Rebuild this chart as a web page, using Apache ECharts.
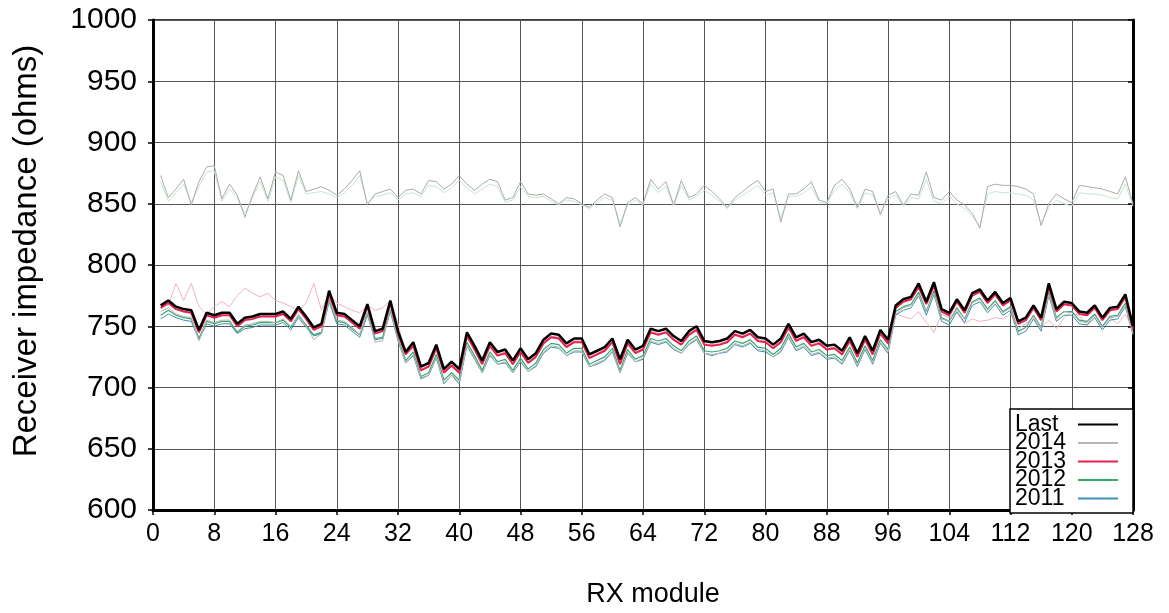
<!DOCTYPE html>
<html><head><meta charset="utf-8">
<script src="https://cdn.jsdelivr.net/npm/echarts@6/dist/echarts.min.js"></script>
<style>html,body{margin:0;padding:0;background:#fff}#c{width:1169px;height:613px}</style>
</head><body><div id="c"></div>
<script>
const xTicks = [0,8,16,24,32,40,48,56,64,72,80,88,96,104,112,120,128];
const yTicks = [600,650,700,750,800,850,900,950,1000];
const legendNames = ['Last','2014','2013','2012','2011'];

const last = [767,771,766,764,763,747,761,759,761,761,752,757,758,760,760,760,762,756,766,758,749,752,779,761,760,755,750,768,746,748,771,746,729,737,717,720,735,715,721,715,745,734,722,737,729,731,722,732,723,728,739,744,743,736,740,740,727,730,733,740,723,739,731,734,748,746,748,742,738,746,750,738,737,738,740,746,744,747,741,740,735,740,752,741,744,737,739,734,735,730,741,728,742,730,747,739,767,772,774,785,770,786,764,761,772,763,777,780,771,778,769,773,754,757,767,757,785,764,770,769,762,761,767,757,765,766,776,750];
const y2013 = [765,769,764,762,761,745,759,757,759,759,750,755,756,758,758,758,760,754,764,756,747,750,776,759,758,753,748,766,744,746,769,744,727,734,714,717,732,712,718,712,742,731,719,734,726,728,719,729,720,725,736,741,740,733,737,737,724,727,730,737,719,736,728,731,745,743,745,739,735,743,747,735,734,735,737,743,741,744,738,737,732,737,749,738,741,734,736,731,732,727,738,725,739,727,744,736,765,770,772,782,768,783,762,759,770,761,775,778,769,776,767,771,752,755,765,755,782,762,768,767,760,759,765,755,763,764,774,748];
const y2014 = [762,765,760,758,757,738,755,753,755,755,746,751,752,754,754,753,756,750,759,750,739,744,772,755,754,749,743,761,737,738,764,739,720,727,708,710,725,704,710,705,735,724,712,727,719,721,712,722,713,718,729,734,733,726,730,730,717,720,723,730,712,729,721,724,738,736,738,732,728,736,740,728,727,728,730,736,734,737,731,730,725,730,742,731,734,727,729,724,725,720,731,718,732,720,737,729,760,765,767,776,762,777,756,754,764,756,769,772,763,770,761,765,745,749,758,748,776,756,762,761,754,753,759,749,757,758,767,744];
const y2012 = [759,763,759,757,756,740,754,752,754,754,745,750,751,753,753,753,755,749,759,751,743,745,772,754,753,748,743,761,740,741,764,740,722,729,709,712,727,706,712,706,737,726,714,729,721,723,714,724,715,720,731,736,735,728,732,732,719,722,725,732,714,731,723,726,740,738,740,734,730,738,742,730,729,730,732,738,736,739,733,732,727,732,744,733,736,729,731,726,727,722,733,720,734,722,739,731,762,766,768,778,762,779,757,754,765,756,770,773,764,771,762,766,746,749,759,749,778,757,762,762,755,754,760,750,758,759,769,745];
const y2011 = [756,760,757,755,754,739,752,750,752,752,744,748,749,751,751,751,753,747,757,749,742,744,770,752,751,746,741,759,739,740,762,738,720,726,707,710,724,703,710,703,734,723,712,726,719,720,712,721,713,717,728,733,732,726,729,729,717,719,722,729,712,728,721,723,737,735,737,731,728,735,739,728,726,728,729,735,733,736,730,729,725,729,741,730,733,726,728,723,724,719,730,717,731,719,736,728,759,763,765,775,759,776,754,751,762,753,767,770,761,768,759,763,743,746,756,746,775,754,759,759,752,751,757,747,755,756,766,743];
const older = [766,767,785,771,785,766,760,766,770,766,775,781,777,774,777,771,769,766,763,769,785,763,777,769,766,763,761,767,763,765,771,752,727,735,715,718,733,713,719,713,743,732,720,735,727,729,720,730,721,726,737,742,741,734,738,738,725,728,731,738,721,737,729,732,746,744,746,740,736,744,748,736,735,736,738,744,742,745,739,738,733,738,750,739,742,735,737,732,733,728,739,726,740,728,745,737,760,758,756,762,753,745,760,757,761,752,756,754,755,757,756,760,748,752,757,749,755,748,757,762,758,751,760,750,757,752,760,748];
const upperGray = [873,855,862,870,849,868,880,881,854,866,857,839,857,872,854,876,873,853,877,860,862,864,861,857,862,869,877,849,858,860,862,855,861,862,858,869,868,862,866,873,866,861,866,870,868,853,855,868,858,857,858,854,850,855,854,850,847,853,858,855,831,851,855,850,870,862,868,849,869,855,858,865,860,854,847,855,860,865,869,860,862,835,858,858,862,868,853,851,865,870,862,847,862,860,841,857,860,849,858,857,876,855,853,860,853,849,842,830,864,866,865,865,864,862,858,832,850,858,854,851,865,864,863,862,860,858,872,850];
const upperGreen = [868,852,859,866,851,864,876,877,852,862,855,842,855,868,852,872,869,851,873,858,859,860,858,855,859,865,873,851,856,857,859,853,858,859,856,865,864,859,863,869,863,858,862,866,864,851,853,864,856,855,856,852,849,853,852,849,846,851,855,853,834,849,853,849,866,859,864,848,865,853,856,861,857,852,846,853,857,861,865,857,859,838,856,856,859,864,851,850,861,866,859,846,859,857,843,854,857,848,855,854,870,852,850,856,850,846,840,832,858,860,859,859,858,857,853,834,847,853,850,848,859,858,858,857,855,854,866,848];

const pts = arr => arr.map((v, i) => [i + 1, v]);
const FONT = '"Liberation Sans", Arial, Helvetica, sans-serif';

function line(name, data, color, width, z) {
  return { name, type: 'line', data: pts(data), symbol: 'none', z: z, silent: true,
    lineStyle: { color, width }, itemStyle: { color }, animation: false };
}

const chart = echarts.init(document.getElementById('c'), null, { renderer: 'canvas' });
chart.setOption({
  backgroundColor: '#fff',
  animation: false,
  grid: { left: 153, right: 36, top: 20, bottom: 100, show: true, borderColor: '#000', borderWidth: 1.5 },
  legend: {
    data: legendNames,
    orient: 'vertical', right: 36, bottom: 100, align: 'right',
    icon: 'rect',
    backgroundColor: '#fff', borderColor: '#000', borderWidth: 1.5,
    padding: [4, 15, 3, 5], itemGap: -4.5, itemWidth: 40, itemHeight: 2,
    formatter: n => '{a|' + n + '}',
    textStyle: { fontFamily: FONT, fontSize: 23, color: '#000',
      rich: { a: { fontFamily: FONT, fontSize: 23, color: '#000', width: 58, align: 'left' } } }
  },
  xAxis: [{
    type: 'value', min: 0, max: 128, interval: 8,
    name: 'RX module', nameLocation: 'middle', nameGap: 71,
    nameTextStyle: { fontFamily: FONT, fontSize: 27, color: '#000', padding: [0, 0, 0, 20] },
    axisLine: { show: true, onZero: false, lineStyle: { color: '#000', width: 3 } },
    axisTick: { show: true, length: 5, lineStyle: { color: '#000', width: 1.5 } },
    axisLabel: { fontFamily: FONT, fontSize: 25, color: '#000', margin: 12,
      formatter: v => xTicks.includes(v) ? String(v) : '' },
    splitLine: { show: true, lineStyle: { color: '#555', width: 1 } }
  }],
  yAxis: [{
    type: 'value', min: 600, max: 1000, interval: 50,
    name: 'Receiver impedance (ohms)', nameLocation: 'middle', nameGap: 110, nameRotate: 90,
    nameTextStyle: { fontFamily: FONT, fontSize: 33, color: '#000', padding: [0, 0, 0, 28] },
    axisLine: { show: true, onZero: false, lineStyle: { color: '#000', width: 3 } },
    axisTick: { show: true, length: 5, lineStyle: { color: '#000', width: 1.5 } },
    axisLabel: { fontFamily: FONT, fontSize: 30, color: '#000', margin: 16,
      formatter: v => yTicks.includes(v) ? String(v) : '' },
    splitLine: { show: true, lineStyle: { color: '#555', width: 1 } }
  }, {
    type: 'value', min: 600, max: 1000, interval: 50, position: 'right',
    axisLine: { show: true, onZero: false, lineStyle: { color: '#000', width: 3 } },
    axisTick: { show: true, inside: true, length: 5, lineStyle: { color: '#000', width: 1.5 } },
    axisLabel: { show: false }, splitLine: { show: false }
  }],
  series: [
    line('upperGreen', upperGreen, '#c9e6cf', 1, 1),
    line('upperGray', upperGray, '#a9aca9', 1, 2),
    line('older', older, '#f2b3bf', 1, 2),
    line('2011', y2011, '#3d8fb3', 1, 3),
    line('2012', y2012, '#35a86a', 1.2, 4),
    line('2014', y2014, '#b5b5b5', 1, 5),
    line('2013', y2013, '#e8204f', 2, 6),
    line('Last', last, '#000000', 2.5, 7)
  ]
});
</script></body></html>
